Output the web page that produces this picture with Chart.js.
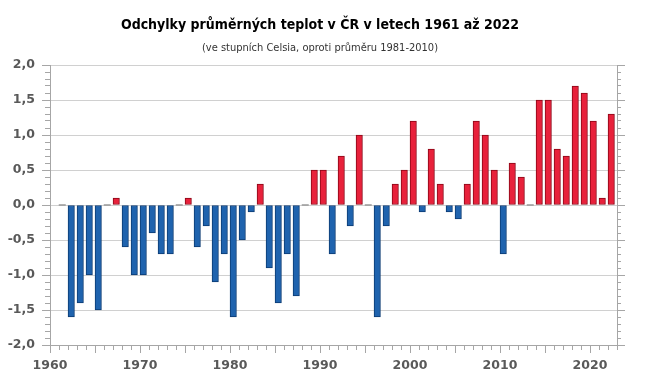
<!DOCTYPE html>
<html><head><meta charset="utf-8">
<script src="https://cdn.jsdelivr.net/npm/chart.js@4"></script>
<style>html,body{margin:0;padding:0;background:#fff}</style>
</head><body>
<canvas id="c" width="650" height="380"></canvas>
<script>
const titleText = 'Odchylky průměrných teplot v ČR v letech 1961 až 2022';
const subtitleText = '(ve stupních Celsia, oproti průměru 1981-2010)';
const years = [1961,1962,1963,1964,1965,1966,1967,1968,1969,1970,
  1971,1972,1973,1974,1975,1976,1977,1978,1979,1980,
  1981,1982,1983,1984,1985,1986,1987,1988,1989,1990,
  1991,1992,1993,1994,1995,1996,1997,1998,1999,2000,
  2001,2002,2003,2004,2005,2006,2007,2008,2009,2010,
  2011,2012,2013,2014,2015,2016,2017,2018,2019,2020,
  2021,2022];
const anomalies = [0,-1.6,-1.4,-1.0,-1.5,0,0.1,-0.6,-1.0,-1.0,
  -0.4,-0.7,-0.7,0,0.1,-0.6,-0.3,-1.1,-0.7,-1.6,
  -0.5,-0.1,0.3,-0.9,-1.4,-0.7,-1.3,0,0.5,0.5,
  -0.7,0.7,-0.3,1.0,0,-1.6,-0.3,0.3,0.5,1.2,
  -0.1,0.8,0.3,-0.1,-0.2,0.3,1.2,1.0,0.5,-0.7,
  0.6,0.4,0,1.5,1.5,0.8,0.7,1.7,1.6,1.2,
  0.1,1.3];
const xTickLabels = ['1960','1970','1980','1990','2000','2010','2020'];
const yTickLabels = ['-2,0','-1,5','-1,0','-0,5','0,0','0,5','1,0','1,5','2,0'];

const SLOT_SHIFT = 0.36; // bars sit at the start of each year slot
const barPoints = [], zeroPoints = [];
years.forEach((yr, i) => {
  const v = anomalies[i];
  if (v === 0) zeroPoints.push({x: yr + SLOT_SHIFT, y: 0});
  else barPoints.push({x: yr + SLOT_SHIFT, y: v});
});

const AX = '#a6a6a6';
const tickFont = {family: 'DejaVu Sans', weight: 'bold', size: 12.5};
const titleFamily = 'DejaVu Sans Condensed, Liberation Sans, sans-serif';

new Chart(document.getElementById('c'), {
  type: 'bar',
  data: {
    datasets: [{
      type: 'bar',
      data: barPoints,
      xAxisID: 'x', yAxisID: 'y',
      barThickness: 6.4,
      borderWidth: 1,
      borderSkipped: false,
      backgroundColor: c => (c.raw && c.raw.y > 0) ? '#e8213b' : '#1f63ae',
      borderColor: c => (c.raw && c.raw.y > 0) ? '#8a0616' : '#0b3a72'
    }, {
      type: 'scatter',
      data: zeroPoints,
      xAxisID: 'x', yAxisID: 'y',
      pointStyle: 'line',
      pointRadius: 3.5,
      borderWidth: 1.5,
      borderColor: '#999999',
      backgroundColor: '#999999'
    }]
  },
  options: {
    responsive: false,
    animation: false,
    layout: {padding: {left: 0, right: 10, top: 0, bottom: 0}},
    plugins: {
      legend: {display: false},
      tooltip: {enabled: false},
      title: {
        display: true, text: titleText, color: '#000',
        font: {family: titleFamily, weight: 'bold', size: 14, lineHeight: 1.2},
        padding: {top: 17, bottom: 4}
      },
      subtitle: {
        display: true, text: subtitleText, color: '#333',
        font: {family: titleFamily, weight: 'normal', size: 11, lineHeight: 1.2},
        padding: {top: 4, bottom: 10}
      }
    },
    scales: {
      x: {
        type: 'linear', position: 'bottom', min: 1960, max: 2023, weight: 1, offset: false,
        ticks: {stepSize: 5, includeBounds: false, autoSkip: false, maxRotation: 0, padding: 5,
          color: '#595959', font: tickFont,
          callback: v => xTickLabels.includes(String(v)) ? String(v) : ''},
        grid: {drawOnChartArea: false, offset: false, tickLength: 8, tickColor: AX},
        border: {color: AX},
        afterFit: s => { s.height = 35; }
      },
      xMinor: {
        type: 'linear', position: 'bottom', min: 1960, max: 2023, weight: 0, offset: false,
        ticks: {stepSize: 1, display: false},
        grid: {drawOnChartArea: false, offset: false, tickLength: 5, tickColor: AX},
        border: {display: false},
        afterFit: s => { s.height = 0; }
      },
      y: {
        type: 'linear', position: 'left', min: -2, max: 2, weight: 1,
        ticks: {stepSize: 0.5, padding: 7, color: '#595959', font: tickFont,
          callback: v => yTickLabels[Math.round((v + 2) / 0.5)]},
        grid: {color: c => c.tick && Math.abs(c.tick.value + 2) < 1e-6 ? 'rgba(0,0,0,0)' : '#d0d0d0', tickLength: 8, tickColor: AX},
        border: {color: AX},
        afterFit: s => { s.width = 50; }
      },
      yMinor: {
        type: 'linear', position: 'left', min: -2, max: 2, weight: 0,
        ticks: {stepSize: 0.1, display: false},
        grid: {drawOnChartArea: false, tickLength: 5, tickColor: AX},
        border: {display: false},
        afterFit: s => { s.width = 0; }
      },
      yR: {
        type: 'linear', position: 'right', min: -2, max: 2, weight: 1,
        ticks: {stepSize: 0.5, display: false},
        grid: {drawOnChartArea: false, tickLength: 8, tickColor: AX},
        border: {color: AX},
        afterFit: s => { s.width = 23; }
      },
      yRMinor: {
        type: 'linear', position: 'right', min: -2, max: 2, weight: 0,
        ticks: {stepSize: 0.1, display: false},
        grid: {drawOnChartArea: false, tickLength: 4, tickColor: AX},
        border: {display: false},
        afterFit: s => { s.width = 0; }
      }
    }
  }
});
</script>
</body></html>
